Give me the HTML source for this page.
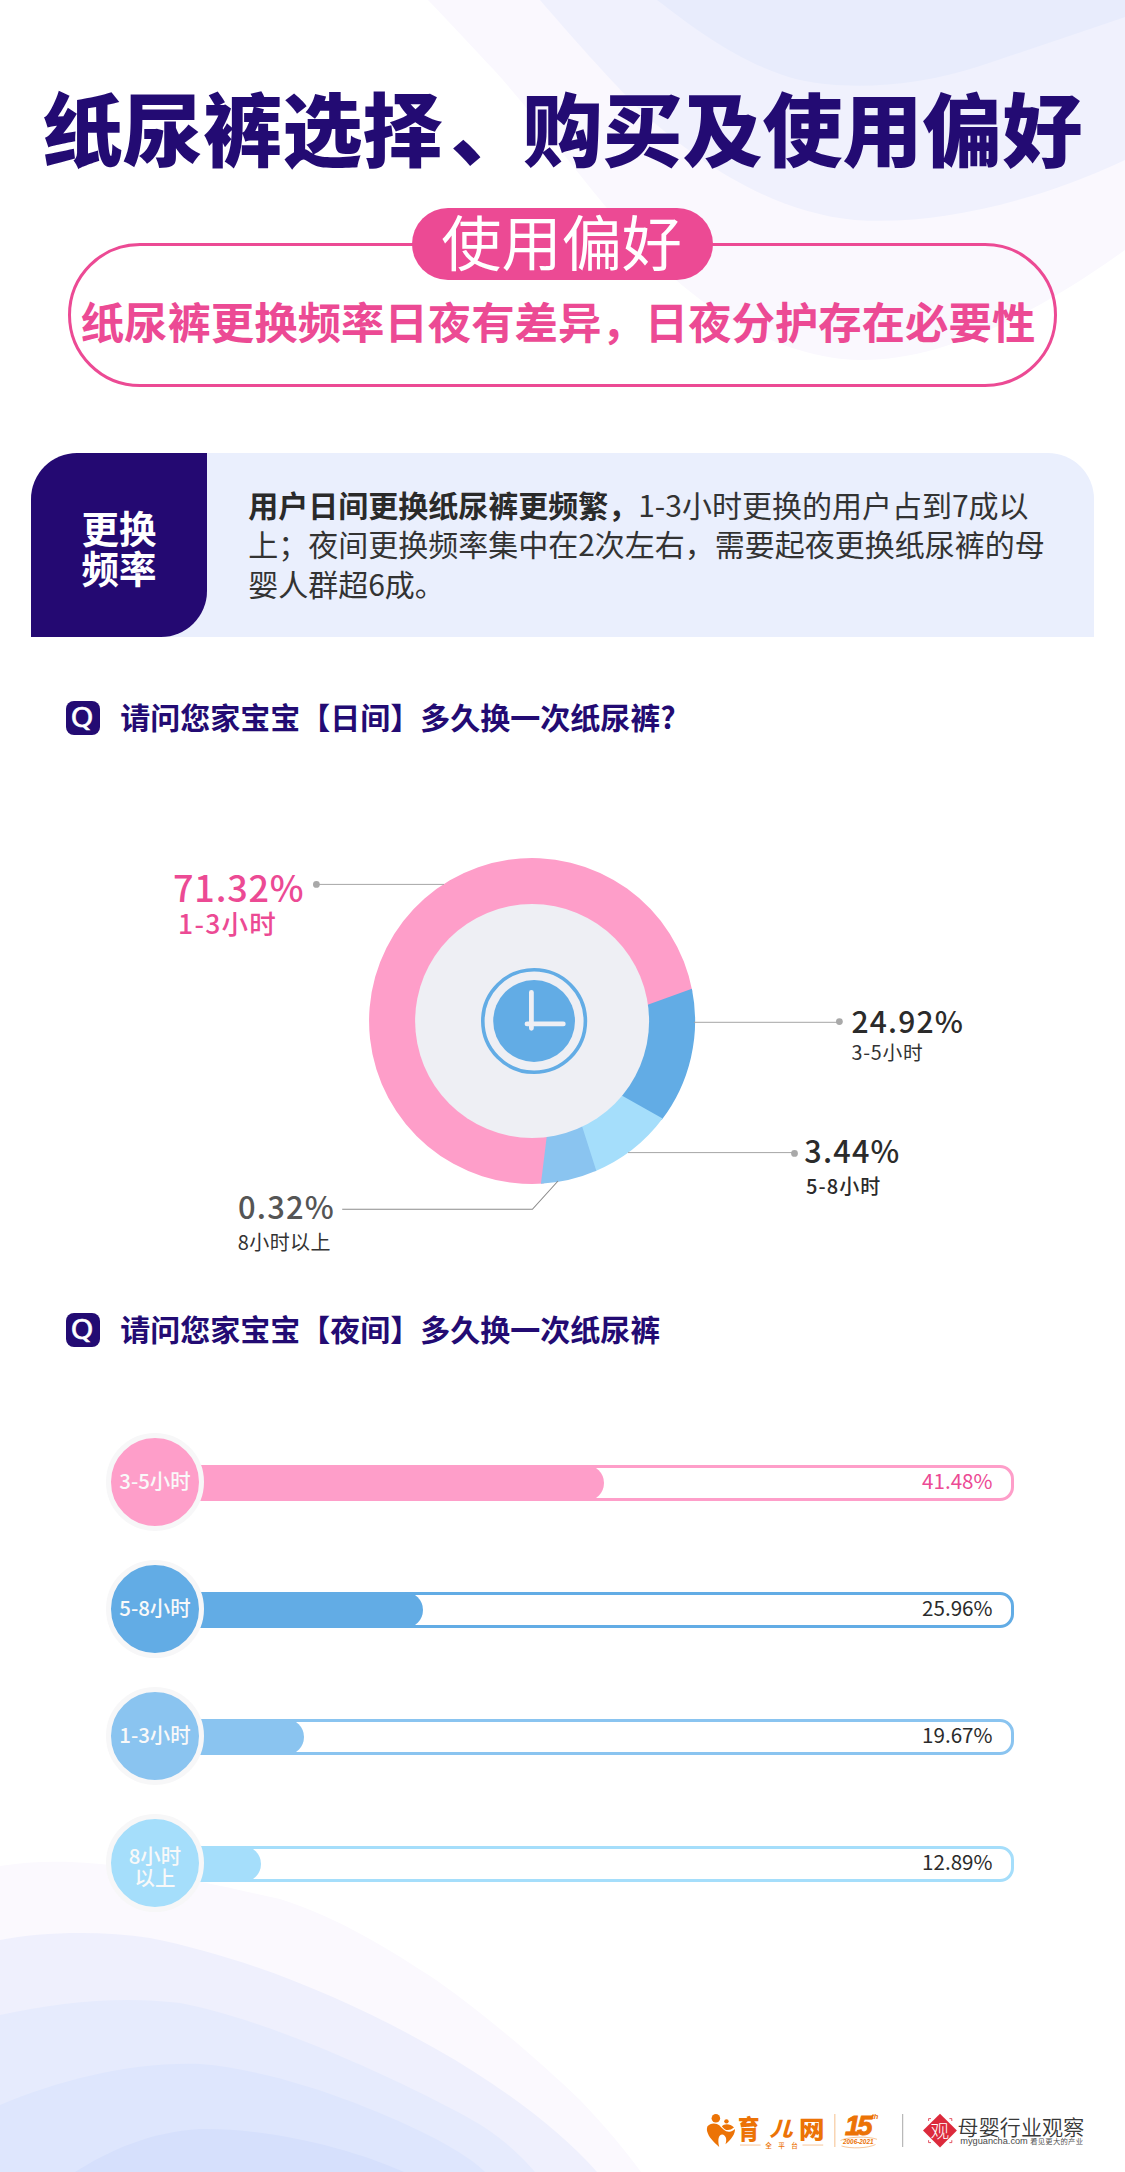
<!DOCTYPE html>
<html lang="zh-CN">
<head>
<meta charset="utf-8">
<title>纸尿裤选择、购买及使用偏好</title>
<style>
*{box-sizing:border-box;margin:0;padding:0}
html,body{width:1125px;height:2172px;background:#fff;overflow:hidden}
body{position:relative;font-family:"Liberation Sans","Noto Sans CJK SC",sans-serif;color:#333}
.abs{position:absolute}
#bg{position:absolute;left:0;top:0;width:1125px;height:2172px}
#title{position:absolute;left:0;top:75px;width:1125px;text-align:center;font-family:"Liberation Sans","Noto Sans CJK SC",sans-serif;font-weight:900;font-size:80px;line-height:116px;color:#230b73;white-space:nowrap;letter-spacing:0}
#pillbox{position:absolute;left:68px;top:243px;width:989px;height:144px;border:3.1px solid #ec4a94;border-radius:72px}
#pill{position:absolute;left:412.2px;top:207.5px;width:300.5px;height:72.3px;border-radius:37px;background:#ec4a94;color:#fff;font-weight:400;font-size:60.2px;line-height:76px;padding-right:1.6px;text-align:center;white-space:nowrap}
#sub{position:absolute;left:0;top:293.8px;width:1125px;text-align:center;font-weight:700;font-size:43.4px;line-height:60px;color:#ec4a94;white-space:nowrap;text-indent:-9px}
#dark{position:absolute;left:31px;top:452.9px;width:176.1px;height:183.8px;background:#240972;border-radius:46px 0 46px 0;color:#fff;font-weight:700;font-size:37.5px;line-height:39.7px;text-align:center;padding-top:58.1px}
#light{position:absolute;left:120px;top:452.8px;width:974px;height:183.9px;background:#eaeffd;border-radius:0 46px 0 0;font-size:30px;line-height:39.4px;padding:32.2px 0 0 128.2px;font-family:"Noto Sans CJK SC","Liberation Sans",sans-serif;color:#333;white-space:nowrap}
#light b{font-weight:700;color:#2a2a2a}
.q{position:absolute;left:65.8px;width:34px;height:34px;-webkit-text-stroke:0.5px #fff;border-radius:8px;background:#230b73;color:#fff;font-family:"DejaVu Sans","Liberation Sans",sans-serif;font-weight:400;font-size:26.3px;line-height:35.6px;text-align:center}
.qt{position:absolute;font-family:"Noto Sans CJK SC","Liberation Sans",sans-serif;left:120.3px;font-weight:700;font-size:30px;line-height:40px;color:#230b73;white-space:nowrap}
.big{position:absolute;font-family:"Noto Sans CJK SC","Liberation Sans",sans-serif;font-weight:500;white-space:nowrap;line-height:1}
.small{position:absolute;font-family:"Noto Sans CJK SC","Liberation Sans",sans-serif;white-space:nowrap;line-height:1}
.row{position:absolute;left:0;width:1125px;height:96px}
.row .track{position:absolute;left:150px;top:31px;width:864px;height:36px;border-radius:14px;border:3px solid;background:#fff}
.row .fill{position:absolute;left:150px;top:31px;height:36px;border-radius:0 18px 18px 0}
.row .circ{position:absolute;font-family:"Noto Sans CJK SC","Liberation Sans",sans-serif;left:105.7px;top:-1.4px;width:98.5px;height:98.5px;border-radius:50%;border:5px solid #f7f7f8;color:#f9f9f9;font-weight:500;font-size:20.4px;line-height:21.5px;padding-bottom:2.5px;display:flex;align-items:center;justify-content:center;text-align:center}
.row .pct{position:absolute;font-family:"Noto Sans CJK SC","Liberation Sans",sans-serif;right:132.5px;top:31px;height:36px;line-height:31.6px;font-size:20.6px;color:#2b2b2b}
</style>
</head>
<body>
<svg id="bg" viewBox="0 0 1125 2172">
  <path d="M428 0 C455 28 475 50 494 70 C530 110 560 150 592 190 C650 262 720 335 823 356 C900 372 1000 340 1125 250 L1125 0 Z" fill="#faf8fe"/>
  <path d="M540 0 C570 35 610 80 640 110 C700 165 775 213 855 220 C940 226 1040 200 1125 160 L1125 0 Z" fill="#f0f1fd"/>
  <path d="M657 0 C690 25 740 65 800 80 C850 91 920 86 980 66 C1040 46 1090 29 1125 17 L1125 0 Z" fill="#e8ecfc"/>
  <path d="M0 1866 C40 1859 90 1861 130 1868 C190 1879 240 1890 280 1899 C340 1918 390 1950 436 1980 C490 2018 540 2062 580 2100 C605 2126 625 2150 641 2172 L0 2172 Z" fill="#fbf9fe"/>
  <path d="M0 1940 C40 1932 100 1930 150 1938 C250 1958 350 2000 436 2049 C500 2085 560 2130 597 2172 L0 2172 Z" fill="#eff0fd"/>
  <path d="M0 2015 C60 2002 120 1996 180 2003 C260 2018 380 2070 467 2117 C500 2135 520 2155 535 2172 L0 2172 Z" fill="#e6ebfd"/>
  <path d="M0 2105 C60 2080 130 2062 200 2064 C280 2070 380 2110 436 2139 C460 2152 475 2162 485 2172 L0 2172 Z" fill="#dee6fd"/>
  <path d="M75 2172 C110 2150 150 2132 200 2129 C270 2128 350 2148 404 2172 Z" fill="#d6e0fc"/>
</svg>

<div id="title">纸尿裤选择<span style="position:relative;left:8px;top:-1.5px">、</span>购买及使用偏好</div>
<div id="pillbox"></div>
<div id="pill">使用偏好</div>
<div id="sub">纸尿裤更换频率日夜有差异，日夜分护存在必要性</div>

<div id="light"><b>用户日间更换纸尿裤更频繁，</b>1-3小时更换的用户占到7成以<br>上；夜间更换频率集中在2次左右，需要起夜更换纸尿裤的母<br>婴人群超6成。</div>
<div id="dark">更换<br>频率</div>

<div class="q" style="top:700.7px"><span style="display:inline-block;transform:scaleX(1.09) translateX(-0.3px)">Q</span></div>
<div class="qt" style="top:695.8px">请问您家宝宝【日间】多久换一次纸尿裤?</div>

<svg class="abs" style="left:0;top:800px" width="1125" height="500" viewBox="0 800 1125 500">
  <path d="M548.8 1135.8 L543.8 1183.6 A163.0 163.0 0 1 1 692.4 991.6 L647.3 1007.1 A116.0 116.0 0 1 0 548.8 1135.8 Z" fill="#fe9ec9"/>
<path d="M647.0 1005.1 L691.9 988.8 A163.0 163.0 0 0 1 661.6 1120.0 L620.5 1096.1 A116.0 116.0 0 0 0 647.0 1005.1 Z" fill="#62ace5"/>
<path d="M621.3 1095.2 L662.6 1118.6 A163.0 163.0 0 0 1 594.7 1171.5 L580.8 1126.3 A116.0 116.0 0 0 0 621.3 1095.2 Z" fill="#a5defb"/>
<path d="M581.9 1125.8 L596.3 1170.8 A163.0 163.0 0 0 1 540.9 1183.8 L546.8 1136.1 A116.0 116.0 0 0 0 581.9 1125.8 Z" fill="#8ac4f0"/>
<circle cx="532.1" cy="1021.0" r="117.0" fill="#eeeff4"/>

<circle cx="534.1" cy="1021" r="51.3" fill="none" stroke="#62ace5" stroke-width="3.6"/>
<circle cx="534.1" cy="1021" r="40.9" fill="#62ace5"/>
<path d="M531.4 992.3 V1028.3 M527 1023.9 H563.3" stroke="#eeeff4" stroke-width="4.8" stroke-linecap="round" fill="none"/>
<g stroke="#a6a6a6" stroke-width="1" fill="none">
<path d="M316.4 884.4 H444"/>
<path d="M694 1022.3 H839.3"/>
<path d="M628 1152.6 H794.4"/>
<path d="M342.2 1209.3 H532.4 L558 1181" stroke="#8c8c8c" stroke-width="1.1"/>
</g>
<g fill="#a9a9a9">
<circle cx="316.4" cy="884.4" r="3.4"/>
<circle cx="839.4" cy="1021.6" r="3.4"/>
<circle cx="794.5" cy="1153.4" r="3.4"/>
</g>

</svg>


<div class="big" style="left:173px;top:868px;font-size:36px;color:#ec4a94;letter-spacing:0.8px">71.32%</div>
<div class="small" style="left:178px;top:910px;font-size:26.5px;color:#ec4a94;letter-spacing:1.3px;font-weight:500">1-3小时</div>

<div class="big" style="left:851.5px;top:1004.7px;font-size:30px;color:#2b2b2b;letter-spacing:1.2px">24.92%</div>
<div class="small" style="left:851.5px;top:1042px;font-size:19.7px;color:#333;letter-spacing:0.8px">3-5小时</div>

<div class="big" style="left:804.3px;top:1134.6px;font-size:30.6px;color:#2b2b2b;letter-spacing:1.2px">3.44%</div>
<div class="small" style="left:806px;top:1175.5px;font-size:20px;color:#2b2b2b;font-weight:500;letter-spacing:1.1px">5-8小时</div>

<div class="big" style="left:238px;top:1190.5px;font-size:30.9px;color:#555;letter-spacing:1.2px">0.32%</div>
<div class="small" style="left:237.8px;top:1231.8px;font-size:20px;color:#333;letter-spacing:0.4px">8小时以上</div>

<div class="q" style="top:1312.7px"><span style="display:inline-block;transform:scaleX(1.09) translateX(-0.3px)">Q</span></div>
<div class="qt" style="top:1307.8px">请问您家宝宝【夜间】多久换一次纸尿裤</div>


<div class="row" style="top:1434px">
  <div class="track" style="border-color:#fe9ec9"></div>
  <div class="fill" style="width:454px;background:#fe9ec9"></div>
  <div class="pct" style="color:#ec4a94">41.48%</div>
  <div class="circ" style="background:#fe9ec9">3-5小时</div>
</div>
<div class="row" style="top:1561.1px">
  <div class="track" style="border-color:#62ace5"></div>
  <div class="fill" style="width:273px;background:#62ace5"></div>
  <div class="pct">25.96%</div>
  <div class="circ" style="background:#62ace5">5-8小时</div>
</div>
<div class="row" style="top:1688.2px">
  <div class="track" style="border-color:#8ac4f0"></div>
  <div class="fill" style="width:154px;background:#8ac4f0"></div>
  <div class="pct">19.67%</div>
  <div class="circ" style="background:#8ac4f0">1-3小时</div>
</div>
<div class="row" style="top:1815.3px">
  <div class="track" style="border-color:#a5defb"></div>
  <div class="fill" style="width:111px;background:#a5defb"></div>
  <div class="pct">12.89%</div>
  <div class="circ" style="background:#a5defb;line-height:22px;padding:6.1px 0 0 0">8小时<br>以上</div>
</div>


<svg class="abs" style="left:690px;top:2100px" width="435" height="72" viewBox="690 2100 435 72">
  <g fill="#ec7306">
    <g transform="translate(700 2105) scale(0.07111)">
      <circle cx="223" cy="185" r="60"/>
      <circle cx="372" cy="230" r="31"/>
      <path d="M105 300 C140 250 230 245 275 290 C320 340 360 385 420 375 C455 368 478 352 492 338 C495 400 450 480 358 552 C385 480 360 420 312 415 C262 420 245 480 270 592 C190 520 120 450 100 370 C95 345 97 320 105 300 Z"/>
      <path d="M308 300 C335 265 420 255 478 318 C440 350 400 358 368 350 C340 340 320 320 308 300 Z"/>
    </g>
    <g font-family="'Liberation Sans','Noto Sans CJK SC',sans-serif" font-weight="900" font-size="26" font-style="italic">
      <text x="738" y="2139" textLength="21.5" lengthAdjust="spacingAndGlyphs" font-style="normal">育</text>
      <text x="769.5" y="2135.6" textLength="23" lengthAdjust="spacingAndGlyphs" font-size="20">儿</text>
      <text x="799" y="2137.6" textLength="25.5" lengthAdjust="spacingAndGlyphs" font-style="normal" font-size="23.5">网</text>
    </g>
    <text x="765.3" y="2147.6" font-family="'Liberation Sans','Noto Sans CJK SC',sans-serif" font-size="6.6" font-weight="500" letter-spacing="6.4">全平台</text>
    <rect x="740" y="2144.6" width="20.6" height="0.9" opacity="0.45"/>
    <rect x="802.5" y="2144.6" width="20.7" height="0.9" opacity="0.45"/>
    <rect x="834.4" y="2114" width="0.9" height="33" opacity="0.5"/>
    <text x="845" y="2135" font-family="'Liberation Sans',sans-serif" font-weight="700" font-style="italic" font-size="27.5" letter-spacing="-3" stroke="#ec7306" stroke-width="0.9">15</text>
    <text x="871.5" y="2119.4" font-family="'Liberation Sans',sans-serif" font-weight="700" font-style="italic" font-size="7.5" letter-spacing="-0.3">th</text>
    <text x="843" y="2144.3" font-family="'Liberation Sans',sans-serif" font-weight="700" font-style="italic" font-size="8" textLength="30.5" lengthAdjust="spacingAndGlyphs">2006-2021</text>
  </g>
  <path d="M840.5 2140.5 C848 2136.6 868 2136 877 2139.3 M841.5 2146 C851 2149 868 2148.3 875.5 2144.5" fill="none" stroke="#ec7306" stroke-width="0.6" opacity="0.7"/>
  <rect x="902.2" y="2114" width="1" height="33" fill="#a8a8a8"/>
  <path d="M940 2113.8 L956.9 2130.6 L940 2147.4 L923 2130.6 Z" fill="#dc2a3c"/>
  <g fill="none" stroke="#dc2a3c" stroke-width="0.8">
    <path d="M928.6 2121 V2118.6 H931 M949.4 2118.6 H951.8 V2121 M951.8 2140.2 V2142.6 H949.4 M931 2142.6 H928.6 V2140.2"/>
  </g>
  <text x="930.6" y="2137.6" font-family="'Liberation Sans','Noto Sans CJK SC',sans-serif" font-weight="300" font-size="18.6" fill="#fff">观</text>
  <text x="957.6" y="2135.4" font-family="'Liberation Sans','Noto Sans CJK SC',sans-serif" font-weight="350" font-size="21" fill="#383838" textLength="126.6" lengthAdjust="spacing">母婴行业观察</text>
  <text x="960.3" y="2143.6" font-family="'Liberation Sans',sans-serif" font-size="9" fill="#4a4a4a" textLength="67.5" lengthAdjust="spacingAndGlyphs">myguancha.com</text>
  <text x="1030.2" y="2144.2" font-family="'Liberation Sans','Noto Sans CJK SC',sans-serif" font-size="7.3" fill="#555" textLength="52.8" lengthAdjust="spacing">看见更大的产业</text>
</svg>

</body>
</html>
